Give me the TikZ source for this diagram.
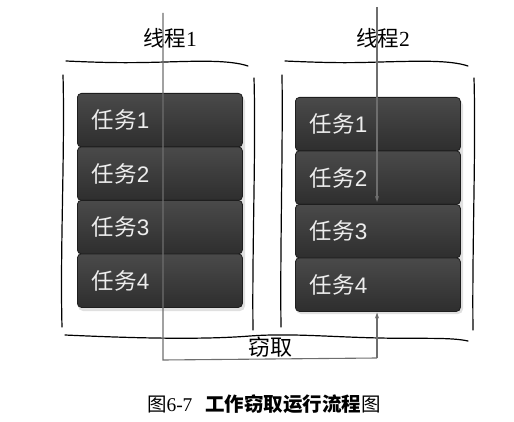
\documentclass[tikz,border=0pt]{standalone}
\usepackage{fontspec}
\setmainfont{Liberation Serif}
\newfontfamily\cjk{Noto Sans CJK SC}
\newfontfamily\digsans{Liberation Sans}
\usetikzlibrary{arrows.meta}
\definecolor{taskedge}{HTML}{1E1E1E}
\definecolor{tasktop}{HTML}{4A4A4A}
\definecolor{taskbot}{HTML}{2E2E2E}
\definecolor{thline}{HTML}{6E6E6E}
\tikzset{
  taskbox/.style={draw=taskedge, line width=0.8pt, rounded corners=4pt,
    top color=tasktop, bottom color=taskbot, anchor=north west,
    minimum width=165pt, minimum height=53.5pt, text width=136pt,
    inner xsep=14.5pt, inner ysep=0pt, align=left, text=white!93!black,
    font=\cjk\fontsize{22.5pt}{24pt}\selectfont},
  hand/.style={black, line width=1.2pt, line cap=round},
  thread/.style={thline, line width=1.1pt},
  tip/.style={-{Stealth[length=6pt,width=4pt]}},
  lbl/.style={font=\cjk\fontsize{21.5pt}{24pt}\selectfont, inner sep=0pt},
  shadowbox/.style={fill=black, opacity=0.12, rounded corners=5pt}
}
\begin{document}
\begin{tikzpicture}[x=1pt,y=-1pt]
\useasboundingbox (0,0) rectangle (514,422);
% thread labels
\node[lbl] (th1) at (170,38) {线程\fontspec{Liberation Serif}1};
\node[lbl] (th2) at (383,38) {线程\fontspec{Liberation Serif}2};
% hand drawn frames
\draw[hand] (66,61) .. controls (110,63) and (130,63) .. (165,62) .. controls (200,61) and (230,60) .. (248,66);
\draw[hand] (285,61) .. controls (330,63) and (350,63) .. (380,62) .. controls (420,61) and (450,60) .. (468,66);
\draw[hand] (63,75) .. controls (65,150) and (60,250) .. (62,327);
\draw[hand] (254,78) .. controls (256,150) and (252,250) .. (253,330);
\draw[hand] (282,75) .. controls (283,150) and (280,250) .. (281,327);
\draw[hand] (474,78) .. controls (476,150) and (472,250) .. (473,330);
\draw[hand] (65,335) .. controls (130,338) and (200,340) .. (250,336) .. controls (290,333) and (330,337) .. (380,338) .. controls (420,339) and (450,337) .. (468,341);
% shadows
\fill[shadowbox] (78,96) rectangle (245,311);
\fill[shadowbox] (296,100) rectangle (463,314);
% tasks of thread 1
\node[taskbox] (l1) at (77,93) {任务{\digsans 1}};
\node[taskbox] (l2) at (77,146.5) {任务{\digsans 2}};
\node[taskbox] (l3) at (77,200) {任务{\digsans 3}};
\node[taskbox] (l4) at (77,253.5) {任务{\digsans 4}};
% tasks of thread 2
\node[taskbox] (r1) at (295,97) {任务{\digsans 1}};
\node[taskbox] (r2) at (295,150.5) {任务{\digsans 2}};
\node[taskbox] (r3) at (295,204) {任务{\digsans 3}};
\node[taskbox] (r4) at (295,257.5) {任务{\digsans 4}};
% thread lines
\coordinate (t1s) at (163,13);
\coordinate (t1e) at (163,360);
\coordinate (t2s) at (377,7);
\coordinate (t2e) at (377,202);
\coordinate (stc) at (377,358);
\coordinate (ste) at (377,312.5);
\draw[thread] (t1s) -- (t1e) -- (stc);
\draw[thread,tip] (stc) -- (ste);
\draw[thread,tip] (t2s) -- (t2e);
\node[lbl, font=\cjk\fontsize{22pt}{24pt}\selectfont] (steal) at (270,347) {窃取};
% caption
\node[inner sep=0pt, font=\fontsize{19.5pt}{22pt}\selectfont] (cap) at (264,404)
  {{\cjk 图}6-7\hspace{13pt}{\cjk\bfseries 工作窃取运行流程}{\cjk 图}};
\end{tikzpicture}
\end{document}
